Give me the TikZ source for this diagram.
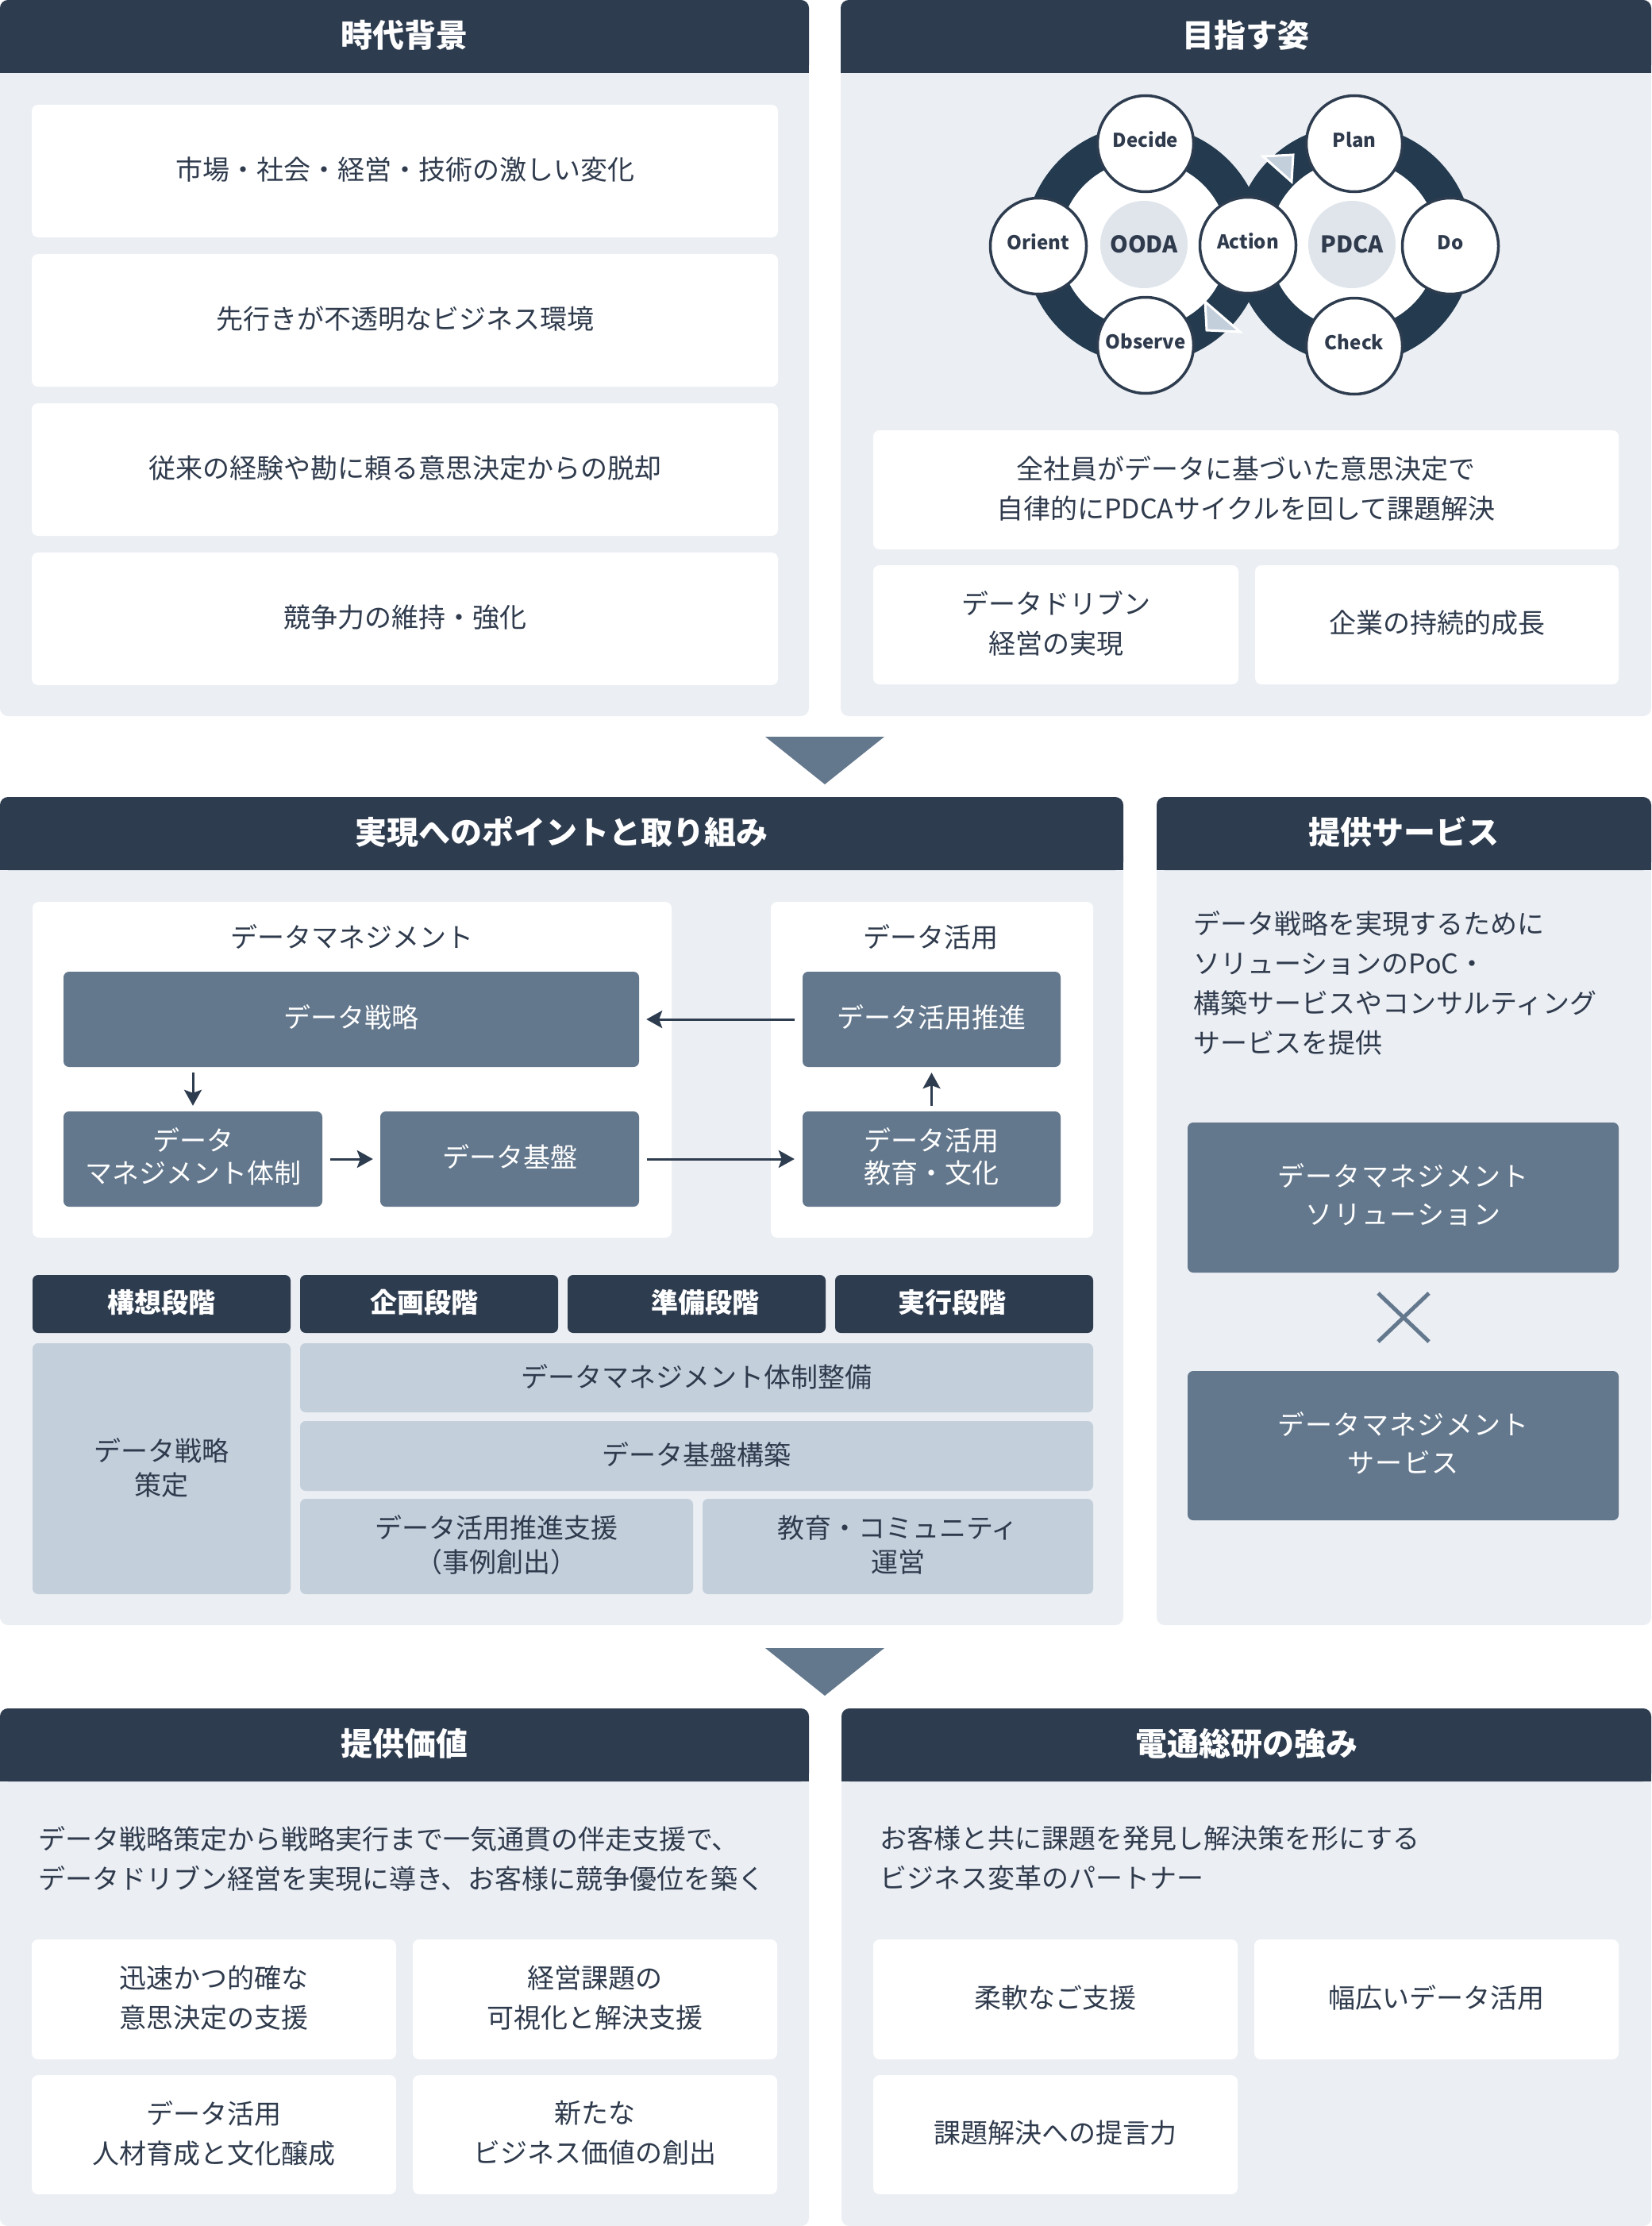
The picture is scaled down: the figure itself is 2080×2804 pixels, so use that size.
\documentclass[tikz,border=0pt]{standalone}
\usepackage{fontspec}
\setmainfont{Noto Sans CJK JP}
\usetikzlibrary{arrows.meta}
\definecolor{panelbg}{HTML}{EBEEF3}
\definecolor{hdr}{HTML}{2E3C4F}
\definecolor{txt}{HTML}{2F3B4D}
\definecolor{medbox}{HTML}{64788D}
\definecolor{lightbox}{HTML}{C3CFDB}
\definecolor{ringc}{HTML}{233A4F}
\definecolor{ctr}{HTML}{E0E5EC}
\newcommand{\fsz}[2]{\fontsize{#1}{#2}\selectfont}
\tikzset{
  panel/.style={fill=panelbg, rounded corners=10pt},
  hdrfill/.style={fill=hdr},
  hdrtitle/.style={text=white, font=\fsz{40}{50}\bfseries, inner sep=0pt, yshift=2pt},
  sz/.style 2 args={minimum width=#1pt, minimum height=#2pt, inner sep=0pt},
  % box shapes
  wbox/.style={fill=white, rounded corners=8pt},
  mbox/.style={fill=medbox, rounded corners=7pt},
  sbox/.style={fill=hdr, rounded corners=7pt},
  lbox/.style={fill=lightbox, rounded corners=7pt},
  % box texts
  wt/.style={text=txt, font=\fsz{34}{50}, align=center, inner sep=0pt, yshift=2pt},
  mt/.style={text=white, font=\fsz{34}{41}, align=center, inner sep=0pt, yshift=3pt},
  st/.style={text=white, font=\fsz{34}{41}\bfseries, align=center, inner sep=0pt, yshift=2pt},
  lt/.style={text=txt, font=\fsz{34}{43}, align=center, inner sep=0pt, yshift=1.5pt},
  vt/.style={text=white, font=\fsz{34}{48}\addfontfeatures{LetterSpace=4}, align=center, inner sep=0pt, yshift=3.5pt},
  wb/.style={wbox, label={[wt]center:{#1}}},
  mb/.style={mbox, label={[mt]center:{#1}}},
  sb/.style={sbox, label={[st]center:{#1}}},
  lb/.style={lbox, label={[lt]center:{#1}}},
  vb/.style={mbox, label={[vt]center:{#1}}},
  subtitle/.style={text=txt, font=\fsz{34}{50}, inner sep=0pt, yshift=2pt},
  para/.style={text=txt, font=\fsz{34}{50}, align=left, inner sep=0pt, anchor=west},
  cnode/.style={circle, draw=hdr, line width=3.5pt, fill=white, minimum size=121pt, inner sep=0pt, text=txt, font=\fsz{24}{28}\bfseries, text height=13pt, text depth=3.4pt},
  cctr/.style={circle, fill=ctr, minimum size=110pt, inner sep=0pt, text=txt, font=\fsz{29}{34}\bfseries},
  ring/.style={draw=ringc, line width=45pt},
  arr/.style={draw=hdr, line width=3pt, -{Stealth[length=20pt,width=22pt,inset=4pt]}},
  tri/.style={fill=medbox},
  flowtip/.style={fill=lightbox, draw=white, line width=3pt, line join=miter},
}
\begin{document}
\begin{tikzpicture}[x=1pt,y=-1pt]
\useasboundingbox (0,0) rectangle (2080,2804);
\fill[white] (0,0) rectangle (2080,2804);

% ================= top-left panel =================
\fill[panel] (0,0) rectangle (1019,902);
\fill[hdrfill, rounded corners=10pt] (0,0) rectangle (1019,92);
\fill[hdrfill] (0,50) rectangle (1019,92);
\node[hdrtitle] (t1) at (509.5,46) {時代背景};
\node[wb={市場・社会・経営・技術の激しい変化}, sz={940}{167}] (b11) at (510,215.5) {};
\node[wb={先行きが不透明なビジネス環境}, sz={940}{167}] (b12) at (510,403.5) {};
\node[wb={従来の経験や勘に頼る意思決定からの脱却}, sz={940}{167}] (b13) at (510,591.5) {};
\node[wb={競争力の維持・強化}, sz={940}{167}] (b14) at (510,779.5) {};

% ================= top-right panel =================
\fill[panel] (1059,0) rectangle (2080,902);
\fill[hdrfill, rounded corners=10pt] (1059,0) rectangle (2080,92);
\fill[hdrfill] (1059,50) rectangle (2080,92);
\node[hdrtitle] (t2) at (1569.5,46) {目指す姿};

% OODA / PDCA rings
\draw[ring] (1441,308) circle[radius=128];
\draw[ring] (1705,308) circle[radius=128];
\fill[white] (1441,308) circle[radius=106];
\fill[white] (1705,308) circle[radius=106];
\node[cctr] (ooda) at (1441,308) {OODA};
\node[cctr] (pdca) at (1703,308) {PDCA};
\fill[flowtip] (1591,197) -- (1629,195) -- (1627,229) -- cycle;
\fill[flowtip] (1518,380) -- (1520,416) -- (1562,418) -- cycle;
\node[cnode] (decide) at (1443,181) {Decide};
\node[cnode] (orient) at (1308,310) {Orient};
\node[cnode] (observe) at (1443,435) {Observe};
\node[cnode] (action) at (1572,309) {Action};
\node[cnode] (plan) at (1706,181) {Plan};
\node[cnode] (do) at (1827,310) {Do};
\node[cnode] (check) at (1706,436) {Check};

\node[wb={全社員がデータに基づいた意思決定で\\自律的にPDCAサイクルを回して課題解決}, sz={939}{150}] (b21) at (1569.5,617) {};
\node[wb={データドリブン\\経営の実現}, sz={460}{150}] (b22) at (1330,787) {};
\node[wb={企業の持続的成長}, sz={458}{150}] (b23) at (1810,787) {};

% arrow 1
\fill[tri] (964,928) -- (1114,928) -- (1039,988) -- cycle;

% ================= middle-left panel =================
\fill[panel] (0,1004) rectangle (1415,2047);
\fill[hdrfill, rounded corners=10pt] (0,1004) rectangle (1415,1096);
\fill[hdrfill] (0,1050) rectangle (1415,1096);
\node[hdrtitle] (t3) at (707.5,1050) {実現へのポイントと取り組み};

\node[wbox, sz={805}{423}] (wl) at (443.5,1347.5) {};
\node[wbox, sz={406}{423}] (wr) at (1174,1347.5) {};
\node[subtitle] (wlt) at (443.5,1182) {データマネジメント};
\node[subtitle] (wrt) at (1172,1182) {データ活用};

\node[mb={データ戦略}, sz={725}{120}] (senryaku) at (442.5,1284) {};
\node[mb={データ活用推進}, sz={325}{120}] (suishin) at (1173.5,1284) {};
\node[mb={データ\\マネジメント体制}, sz={326}{120}] (taisei) at (243,1460) {};
\node[mb={データ基盤}, sz={326}{120}] (kiban) at (642,1460) {};
\node[mb={データ活用\\教育・文化}, sz={325}{120}] (kyouiku) at (1173.5,1460) {};

\draw[arr, shorten <=10pt, shorten >=9pt] (suishin.west) -- (senryaku.east);
\draw[arr, shorten <=7pt, shorten >=7pt] (senryaku.south -| taisei.north) -- (taisei.north);
\draw[arr, shorten <=10pt, shorten >=9pt] (taisei.east) -- (kiban.west);
\draw[arr, shorten <=10pt, shorten >=10pt] (kiban.east) -- (kyouiku.west);
\draw[arr, shorten <=7pt, shorten >=7pt] (kyouiku.north) -- (suishin.south);

\node[sb={構想段階}, sz={325}{73}] (s1) at (203.5,1642.5) {};
\node[sb={企画段階\hspace*{12pt}}, sz={325}{73}] (s2) at (540.5,1642.5) {};
\node[sb={\hspace*{21pt}準備段階}, sz={325}{73}] (s3) at (877.5,1642.5) {};
\node[sb={実行段階\hspace*{30pt}}, sz={325}{73}] (s4) at (1214.5,1642.5) {};

\node[lb={データ戦略\\策定}, sz={325}{316}] (l1) at (203.5,1850) {};
\node[lb={データマネジメント体制整備}, sz={999}{87}] (l2) at (877.5,1735.5) {};
\node[lb={データ基盤構築}, sz={999}{88}] (l3) at (877.5,1834) {};
\node[lb={データ活用推進支援\\（事例創出）}, sz={495}{120}] (l4) at (625.5,1948) {};
\node[lb={教育・コミュニティ\\運営}, sz={492}{120}] (l5) at (1131,1948) {};

% ================= middle-right panel =================
\fill[panel] (1457,1004) rectangle (2080,2047);
\fill[hdrfill, rounded corners=10pt] (1457,1004) rectangle (2080,1096);
\fill[hdrfill] (1457,1050) rectangle (2080,1096);
\node[hdrtitle] (t4) at (1768.5,1050) {提供サービス};
\node[para] (p4) at (1503,1238) {データ戦略を実現するために\\ソリューションのPoC・\\構築サービスやコンサルティング\\サービスを提供};
\node[vb={データマネジメント\\ソリューション}, sz={543}{189}] (sv1) at (1767.5,1508.5) {};
\draw[medbox, line width=5pt] (1736,1629) -- (1800,1690);
\draw[medbox, line width=5pt] (1736,1690) -- (1800,1629);
\node[vb={データマネジメント\\サービス}, sz={543}{188}] (sv2) at (1767.5,1821) {};

% arrow 2
\fill[tri] (964,2076) -- (1114,2076) -- (1039,2136) -- cycle;

% ================= bottom-left panel =================
\fill[panel] (0,2152) rectangle (1019,2804);
\fill[hdrfill, rounded corners=10pt] (0,2152) rectangle (1019,2244);
\fill[hdrfill] (0,2200) rectangle (1019,2244);
\node[hdrtitle] (t5) at (509.5,2198) {提供価値};
\node[para] (p5) at (48,2341) {データ戦略策定から戦略実行まで一気通貫の伴走支援で、\\データドリブン経営を実現に導き、お客様に競争優位を築く};
\node[wb={迅速かつ的確な\\意思決定の支援}, sz={459}{151}] (v1) at (269.5,2518.5) {};
\node[wb={経営課題の\\可視化と解決支援}, sz={459}{151}] (v2) at (749.5,2518.5) {};
\node[wb={データ活用\\人材育成と文化醸成}, sz={459}{150}] (v3) at (269.5,2689) {};
\node[wb={新たな\\ビジネス価値の創出}, sz={459}{150}] (v4) at (749.5,2689) {};

% ================= bottom-right panel =================
\fill[panel] (1060,2152) rectangle (2080,2804);
\fill[hdrfill, rounded corners=10pt] (1060,2152) rectangle (2080,2244);
\fill[hdrfill] (1060,2200) rectangle (2080,2244);
\node[hdrtitle] (t6) at (1570,2198) {電通総研の強み};
\node[para] (p6) at (1108,2341) {お客様と共に課題を発見し解決策を形にする\\ビジネス変革のパートナー};
\node[wb={柔軟なご支援}, sz={459}{151}] (k1) at (1329.5,2518.5) {};
\node[wb={幅広いデータ活用}, sz={459}{151}] (k2) at (1809.5,2518.5) {};
\node[wb={課題解決への提言力}, sz={459}{150}] (k3) at (1329.5,2689) {};
\end{tikzpicture}
\end{document}
